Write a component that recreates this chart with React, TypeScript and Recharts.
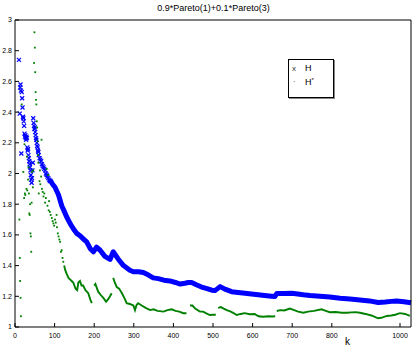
import { ComposedChart, Line, Scatter, XAxis, YAxis } from "recharts";

const xTicks = [0, 100, 200, 300, 400, 500, 600, 700, 800, 900, 1000];
const yTicks = [1, 1.2, 1.4, 1.6, 1.8, 2, 2.2, 2.4, 2.6, 2.8, 3];

// H, first k's (scattered x markers)
const hEarlyK = [10, 12, 13, 14, 15, 16, 17, 18, 19, 20, 21, 22, 23, 24, 25, 26, 27, 28, 29, 30, 31, 32, 33, 34, 35, 36, 37, 38, 39, 40, 41, 42, 43, 44, 45, 46, 47, 48, 49, 50, 51, 52, 53, 54, 55, 56, 57, 58, 59, 60, 62, 64, 66, 68, 70, 72, 74, 76, 78, 80, 82, 84, 86, 88];
const hEarlyV = [2.74, 2.39, 2.56, 2.58, 2.54, 2.13, 2.53, 2.49, 2.43, 2.37, 2.36, 2.34, 2.31, 2.26, 2.24, 2.25, 2.23, 2.22, 2.24, 2.23, 2.17, 2.15, 2.16, 2.12, 2.1, 2.08, 2.06, 2.04, 2.02, 1.99, 1.96, 1.94, 1.97, 2.02, 2.07, 2.36, 2.33, 2.31, 2.29, 2.3, 2.27, 2.25, 2.23, 2.22, 2.2, 2.18, 2.17, 2.15, 2.14, 2.12, 2.1, 2.09, 2.08, 2.06, 2.05, 2.04, 2.03, 2.02, 2.0, 1.99, 1.98, 1.97, 1.96, 1.95];

// H, dense part (drawn as a thick band)
const hBandK = [88, 95, 101, 110, 118, 125, 130, 140, 150, 156, 164, 172, 181, 190, 198, 206, 215, 227, 240, 248, 260, 274, 290, 299, 312, 324, 336, 349, 362, 376, 391, 405, 417, 429, 438, 446, 458, 471, 485, 497, 505, 518, 532, 547, 563, 581, 597, 614, 630, 648, 656, 661, 680, 699, 714, 728, 745, 770, 795, 821, 846, 871, 895, 917, 935, 950, 964, 982, 1000];
const hBandV = [1.96, 1.93, 1.91, 1.86, 1.79, 1.75, 1.72, 1.67, 1.63, 1.61, 1.595, 1.575, 1.555, 1.51, 1.49, 1.52, 1.5, 1.46, 1.44, 1.49, 1.445, 1.4, 1.37, 1.36, 1.36, 1.355, 1.34, 1.32, 1.315, 1.305, 1.3, 1.29, 1.28, 1.285, 1.29, 1.29, 1.275, 1.26, 1.25, 1.24, 1.237, 1.263, 1.245, 1.23, 1.225, 1.22, 1.215, 1.21, 1.205, 1.2, 1.198, 1.218, 1.218, 1.22, 1.215, 1.21, 1.205, 1.2, 1.195, 1.187, 1.182, 1.176, 1.17, 1.16, 1.163, 1.167, 1.17, 1.165, 1.158];

// H*, first k's (scattered dots)
const gEarlyK = [11, 12, 13, 14, 15, 17, 21, 23, 24, 25, 26, 29, 30, 31, 33, 34, 35, 36, 37, 38, 39, 40, 41, 42, 43, 45, 46, 48, 49, 50, 51, 52, 53, 54, 55, 56, 57, 58, 59, 60, 62, 63, 64, 66, 67, 68, 70, 72, 74, 76, 78, 80, 82, 84, 85, 86, 88, 90, 93, 95, 97, 99, 101, 103, 105, 106, 108, 110, 112, 114, 116, 118, 120, 122];
const gEarlyV = [1.7, 1.45, 1.3, 1.19, 1.07, 2.45, 2.01, 1.84, 2.19, 1.87, 1.86, 1.9, 2.11, 1.89, 1.96, 2.04, 1.87, 1.74, 1.73, 1.8, 1.61, 1.59, 1.49, 1.81, 2.01, 1.91, 2.02, 2.72, 2.92, 2.82, 2.66, 2.53, 2.48, 2.45, 2.34, 2.3, 2.21, 2.12, 2.07, 1.87, 1.95, 2.02, 1.93, 1.98, 2.22, 1.9, 1.88, 1.85, 1.87, 1.81, 1.84, 2.03, 1.79, 1.99, 1.76, 1.82, 1.75, 1.73, 1.71, 1.69, 1.675, 1.66, 1.7, 1.68, 1.73, 1.65, 1.61, 1.59, 1.57, 1.555, 1.49, 1.5, 1.45, 1.425];

// H*, dense part (null = jump, line is broken there)
const gLateK = [124, 127, 130, 135, 139, 143, 147, 153, 157, 160, 164, 168, 172, 178, 185, 190, 194, 197, 200, 203, 210, 216, 223, 230, 235, 240, 244, 246, 248, 252, 257, 263, 270, 276, 282, 290, 299, 303, 307, 311, 320, 330, 341, 350, 360, 375, 385, 396, 405, 415, 425, 433, 437, 442, 448, 455, 467, 475, 482, 492, 500, 507, 510, 513, 520, 527, 535, 545, 552, 560, 570, 580, 593, 605, 615, 627, 640, 650, 657, 659, 661, 670, 680, 694, 705, 715, 728, 740, 755, 774, 785, 795, 810, 825, 838, 850, 860, 871, 885, 900, 910, 917, 925, 939, 950, 960, 972, 985, 997];
const gLateV = [1.4, 1.37, 1.35, 1.32, 1.31, 1.3, 1.29, 1.25, 1.24, 1.29, 1.3, 1.27, 1.27, 1.24, 1.22, 1.18, 1.155, null, 1.27, 1.28, 1.23, 1.21, 1.19, 1.165, 1.18, 1.2, 1.22, null, 1.32, 1.29, 1.26, 1.25, 1.22, 1.19, 1.155, 1.15, 1.14, 1.11, 1.143, 1.155, 1.14, 1.125, 1.11, 1.115, 1.105, 1.1, 1.11, 1.115, 1.105, 1.1, 1.09, 1.09, null, 1.14, 1.14, 1.12, 1.1, 1.1, 1.09, 1.078, 1.08, 1.08, null, 1.125, 1.13, 1.12, 1.11, 1.1, 1.09, 1.078, 1.085, 1.09, 1.083, 1.085, 1.07, 1.067, 1.07, 1.068, 1.07, null, 1.104, 1.11, 1.108, 1.12, 1.11, 1.1, 1.093, 1.1, 1.105, 1.115, 1.105, 1.096, 1.098, 1.093, 1.093, 1.095, 1.097, 1.093, 1.085, 1.075, 1.065, 1.057, 1.06, 1.072, 1.075, 1.08, 1.09, 1.085, 1.072];

const zip = (ks: number[], vs: (number | null)[]) => ks.map((k, i) => ({ k, v: vs[i] }));

const hEarly = zip(hEarlyK, hEarlyV);
const hBand = zip(hBandK, hBandV);
const gEarly = zip(gEarlyK, gEarlyV);
const gLate = zip(gLateK, gLateV);

const BLUE = "#0000ff";
const GREEN = "#008000";
const FONT = "'Liberation Sans', Arial, sans-serif";

function XMark({ cx, cy }: any) {
  if (cx == null || cy == null) return null;
  const s = 2;
  return (
    <g stroke={BLUE} strokeWidth={1.2}>
      <line x1={cx - s} y1={cy - s} x2={cx + s} y2={cy + s} />
      <line x1={cx - s} y1={cy + s} x2={cx + s} y2={cy - s} />
    </g>
  );
}

function Dot({ cx, cy }: any) {
  if (cx == null || cy == null) return null;
  return <rect x={cx - 0.9} y={cy - 0.9} width={1.8} height={1.8} fill={GREEN} />;
}

function BottomTick({ x, y, payload }: any) {
  return (
    <g>
      <line x1={x} x2={x} y1={y - 6} y2={y - 10} stroke="#000" />
      <text x={x} y={y} dy="0.71em" textAnchor="middle" fontSize={7} fontFamily={FONT} fill="#000" stroke="none">
        {payload.value}
      </text>
    </g>
  );
}

function LeftTick({ x, y, payload }: any) {
  return (
    <g>
      <line x1={x + 3} x2={x + 7} y1={y} y2={y} stroke="#000" />
      <text x={x} y={y} dy="0.355em" textAnchor="end" fontSize={7} fontFamily={FONT} fill="#000" stroke="none">
        {payload.value}
      </text>
    </g>
  );
}

const NoTick = () => <g />;

export default function App() {
  return (
    <div
      style={{
        position: "absolute",
        left: 0,
        top: 0,
        width: 416,
        height: 353,
        background: "#fff",
        color: "#000",
      }}
    >
      <ComposedChart width={416} height={353} margin={{ top: 20, right: 5, bottom: 0, left: 0 }}>
        <XAxis
          dataKey="k"
          type="number"
          domain={[0, 1000]}
          ticks={xTicks}
          height={26}
          tickSize={0}
          tickMargin={6}
          tickLine={false}
          tick={(p: any) => <BottomTick {...p} />}
          axisLine={{ stroke: "#000" }}
        />
        <XAxis
          xAxisId="top"
          orientation="top"
          mirror
          type="number"
          domain={[0, 1000]}
          ticks={xTicks}
          tickSize={4}
          tick={NoTick}
          tickLine={{ stroke: "#000" }}
          axisLine={{ stroke: "#000" }}
        />
        <YAxis
          dataKey="v"
          type="number"
          domain={[1, 3]}
          ticks={yTicks}
          width={15}
          tickSize={0}
          tickMargin={3}
          tickLine={false}
          tick={(p: any) => <LeftTick {...p} />}
          axisLine={{ stroke: "#000" }}
        />
        <YAxis
          yAxisId="right"
          orientation="right"
          mirror
          type="number"
          domain={[1, 3]}
          ticks={yTicks}
          tickSize={4}
          tick={NoTick}
          tickLine={{ stroke: "#000" }}
          axisLine={{ stroke: "#000" }}
        />
        <Line
          data={hBand}
          dataKey="v"
          stroke={BLUE}
          strokeWidth={5}
          strokeLinejoin="round"
          dot={false}
          isAnimationActive={false}
        />
        <Scatter data={hEarly} dataKey="v" shape={<XMark />} isAnimationActive={false} />
        <Line
          data={gLate}
          dataKey="v"
          stroke={GREEN}
          strokeWidth={1.9}
          dot={false}
          connectNulls={false}
          isAnimationActive={false}
        />
        <Scatter data={gEarly} dataKey="v" shape={<Dot />} isAnimationActive={false} />
      </ComposedChart>

      <div
        style={{
          position: "absolute",
          left: 0,
          width: 416,
          top: 3,
          textAlign: "center",
          fontFamily: FONT,
          fontSize: 9,
          paddingLeft: 11,
          boxSizing: "border-box",
          color: "#000",
        }}
      >
        0.9*Pareto(1)+0.1*Pareto(3)
      </div>
      <div style={{ position: "absolute", left: 345, top: 336, fontFamily: FONT, fontSize: 10, color: "#000" }}>
        k
      </div>

      <div
        style={{
          position: "absolute",
          left: 288,
          top: 59,
          width: 44,
          height: 37,
          border: "1px solid #000",
          boxShadow: "1px 1px 0 #888",
          background: "#fff",
          fontFamily: FONT,
          fontSize: 9,
          color: "#000",
        }}
      >
        <span style={{ position: "absolute", left: 3, top: 4, fontSize: 8, color: "#333" }}>x</span>
        <span style={{ position: "absolute", left: 16, top: 3 }}>H</span>
        <span style={{ position: "absolute", left: 4, top: 15, fontSize: 8, color: "#333" }}>.</span>
        <span style={{ position: "absolute", left: 16, top: 17 }}>
          H<span style={{ fontSize: 6, verticalAlign: "top" }}>*</span>
        </span>
      </div>
    </div>
  );
}
